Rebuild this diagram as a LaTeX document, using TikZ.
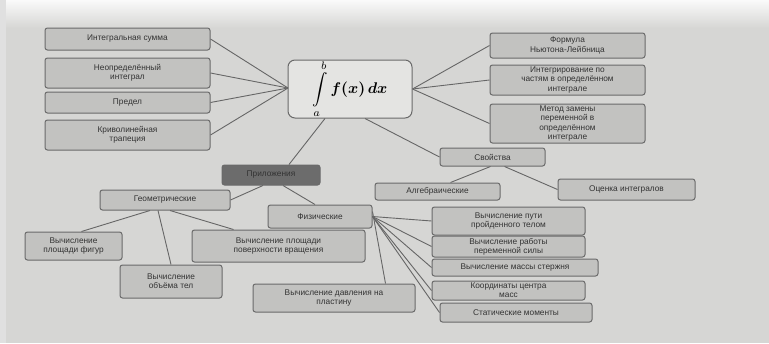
\documentclass[tikz,border=0pt]{standalone}
\usepackage{amsmath}
\usepackage{bm}
\usepackage{fontspec}
\setmainfont{Liberation Sans}
\definecolor{bg}{HTML}{D6D6D4}
\definecolor{boxfill}{HTML}{C2C2C0}
\definecolor{boxline}{HTML}{6A6A6A}
\definecolor{darkfill}{HTML}{6C6C6C}
\definecolor{intfill}{HTML}{E4E4E2}
\tikzset{
  box/.style={draw=boxline, fill=boxfill, rounded corners=2.5pt, line width=1pt,
    align=center, font=\fontsize{8.3}{9.3}\selectfont, inner sep=1pt, text=black!80},
  link/.style={draw=black!60, line width=0.9pt},
}
\begin{document}
\begin{tikzpicture}[x=1pt,y=-1pt]
\useasboundingbox (0,0) rectangle (769,343);
\fill[bg] (0,0) rectangle (769,343);
\shade[top color=white!96!gray, bottom color=bg] (0,0) rectangle (769,28);
\fill[black!12] (0,0) rectangle (6,343);

% integral
\node[draw=boxline, fill=intfill, rounded corners=7pt, line width=1pt,
  minimum width=124pt, minimum height=58pt, inner sep=0pt] (int) at (350,89)
  {\scalebox{1.55}{$\displaystyle\int\limits_a^b \bm{f(x)\,dx}$}};

% left boxes
\node[box, minimum width=165pt, minimum height=22pt] (l1) at (127.5,39) {Интегральная сумма};
\node[box, minimum width=165pt, minimum height=30pt] (l2) at (127.5,73) {Неопределённый\\интеграл};
\node[box, minimum width=165pt, minimum height=21pt] (l3) at (127.5,102.5) {Предел};
\node[box, minimum width=165pt, minimum height=30pt] (l4) at (127.5,135) {Криволинейная\\трапеция};

% right boxes
\node[box, minimum width=155pt, minimum height=25pt] (r1) at (567.5,45.5) {Формула\\Ньютона-Лейбница};
\node[box, minimum width=155pt, minimum height=30pt] (r2) at (567.5,80) {Интегрирование по\\частям в определённом\\интеграле};
\node[box, minimum width=155pt, minimum height=39pt] (r3) at (567.5,123.5) {Метод замены\\переменной в\\определённом\\интеграле};

\coordinate (inL) at (288,88);
\foreach \n in {l1,l2,l3,l4} \draw[link] (\n.east) -- (inL);
\foreach \n in {r1,r2,r3} \draw[link] (int.east) -- (\n.west);

% Приложения / Свойства
\node[box, fill=darkfill, minimum width=98pt, minimum height=20pt] (app) at (271,175) {Приложения};
\node[box, minimum width=105pt, minimum height=18pt] (prop) at (492.5,157) {Свойства};
\draw[link] ([xshift=-25pt]int.south) -- ([xshift=18pt]app.north);
\draw[link] ([xshift=15pt]int.south) -- (prop.west);

\node[box, minimum width=125pt, minimum height=17pt] (alg) at (437.5,191.5) {Алгебраические};
\node[box, minimum width=137pt, minimum height=21pt] (ineq) at (626.5,189.5) {Оценка интегралов};
\draw[link] ([xshift=-2pt]prop.south) -- ([xshift=13pt]alg.north);
\draw[link] ([xshift=12pt]prop.south) -- (ineq.west);

% Геометрические
\node[box, minimum width=130pt, minimum height=20pt] (geo) at (165,200) {Геометрические};
\node[box, minimum width=104pt, minimum height=23pt] (phys) at (320,216.5) {Физические};
\draw[link] ([xshift=-8pt]app.south) -- (geo.east);
\draw[link] ([xshift=12pt]app.south) -- ([xshift=-5pt]phys.north);

\node[box, minimum width=97pt, minimum height=28pt] (g1) at (73.5,246) {Вычисление\\площади фигур};
\node[box, minimum width=102pt, minimum height=33pt] (g2) at (171,281.5) {Вычисление\\объёма тел};
\node[box, minimum width=173pt, minimum height=32pt] (g3) at (278.5,246) {Вычисление площади\\поверхности вращения};
\draw[link] ([xshift=-15pt]geo.south) -- ([xshift=8pt]g1.north);
\draw[link] ([xshift=-7pt]geo.south) -- (g2.north);
\draw[link] ([xshift=5pt]geo.south) -- ([xshift=-45pt]g3.north);

% Физические
\node[box, minimum width=153pt, minimum height=28pt] (p1) at (508.5,221) {Вычисление пути\\пройденного телом};
\node[box, minimum width=153pt, minimum height=21pt] (p2) at (508.5,246.5) {Вычисление работы\\переменной силы};
\node[box, minimum width=166pt, minimum height=17pt] (p3) at (515,267.5) {Вычисление массы стержня};
\node[box, minimum width=153pt, minimum height=19pt] (p4) at (508.5,290.5) {Координаты центра\\масс};
\node[box, minimum width=152pt, minimum height=19pt] (p5) at (516,312.5) {Статические моменты};
\node[box, minimum width=162pt, minimum height=28pt] (pb) at (334,298) {Вычисление давления на\\пластину};
\foreach \n in {p1,p2,p3,p4,p5} \draw[link] (phys.east) -- (\n.west);
\draw[link] ([yshift=5pt]phys.east) -- ([xshift=-30pt]pb.north east);
\end{tikzpicture}
\end{document}
